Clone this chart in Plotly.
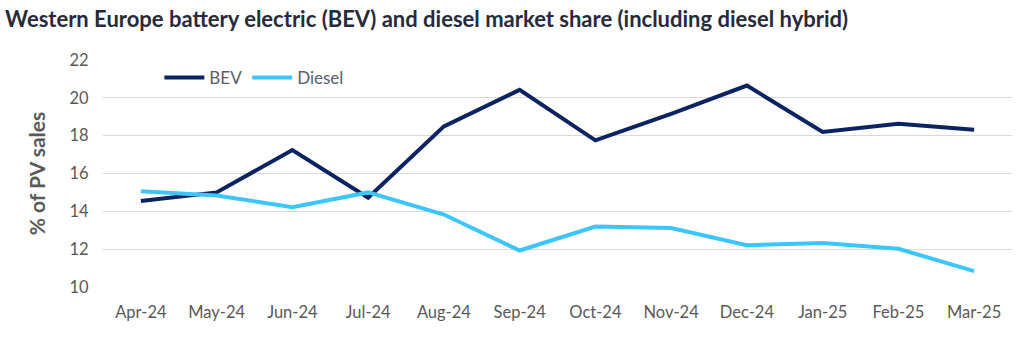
import plotly.graph_objects as go

months = ["Apr-24", "May-24", "Jun-24", "Jul-24", "Aug-24", "Sep-24", "Oct-24",
          "Nov-24", "Dec-24", "Jan-25", "Feb-25", "Mar-25"]
bev = [14.55, 15.0, 17.24, 14.72, 18.49, 20.42, 17.75, 19.15, 20.65, 18.2, 18.63, 18.31]
diesel = [15.06, 14.84, 14.22, 15.0, 13.83, 11.93, 13.2, 13.12, 12.21, 12.33, 12.02, 10.84]

FONT = "Lato"
GREY = "#595959"

fig = go.Figure()
fig.add_trace(go.Scatter(x=months, y=bev, mode="lines", name="BEV",
                         line=dict(color="#0b2361", width=4)))
fig.add_trace(go.Scatter(x=months, y=diesel, mode="lines", name="Diesel",
                         line=dict(color="#3cc6fb", width=4)))

fig.update_layout(
    width=1024, height=353,
    margin=dict(l=103, r=12, t=60, b=66),
    paper_bgcolor="white", plot_bgcolor="white",
    font=dict(family=FONT, color=GREY, size=16),
    title=dict(text="<b>Western Europe battery electric (BEV) and diesel market share (including diesel hybrid)</b>",
               x=0.005, xanchor="left", y=0.945, yanchor="middle",
               font=dict(family=FONT, size=22, color="#262a3b")),
    showlegend=True,
    legend=dict(orientation="h", x=0.062, y=1.0, xanchor="left", yanchor="top",
                bgcolor="rgba(0,0,0,0)", font=dict(size=17, color="#5a5e6c"),
                itemwidth=40),
    xaxis=dict(range=[-0.5, 11.5], showgrid=False, showline=False, ticks="outside",
               ticklen=10, tickcolor="rgba(0,0,0,0)",
               tickfont=dict(size=16.5, color=GREY)),
    yaxis=dict(range=[10, 22], dtick=2, showgrid=True, gridcolor="#d9d9d9", gridwidth=1.3,
               zeroline=False, showline=False, ticks="outside", ticklen=10, tickcolor="rgba(0,0,0,0)",
               tickfont=dict(size=16.5, color=GREY),
               title=dict(text="<b>% of PV sales</b>", font=dict(size=21, color=GREY), standoff=18)),
)

fig.write_html("out.html")
